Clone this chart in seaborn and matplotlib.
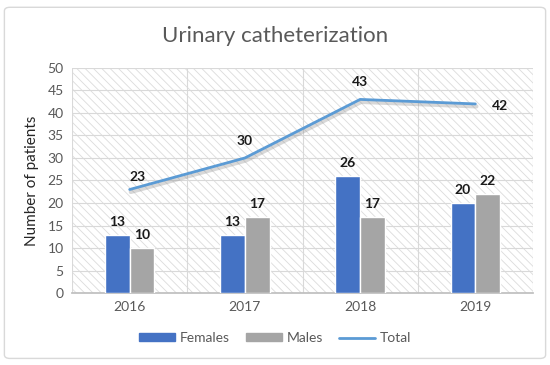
import numpy as np
import pandas as pd
import seaborn as sns
import matplotlib.pyplot as plt
import matplotlib.patheffects as pe
from matplotlib.patches import Patch, Rectangle, FancyBboxPatch
from matplotlib.lines import Line2D

years = ["2016", "2017", "2018", "2019"]
females = [13, 13, 26, 20]
males = [10, 17, 17, 22]
total = [23, 30, 43, 42]

sns.set_theme(style="white")
plt.rcParams['font.family'] = ['Lato', 'DejaVu Sans']
plt.rcParams['hatch.color'] = '#dcdcdc'
plt.rcParams['hatch.linewidth'] = 0.6

df = pd.DataFrame({
    'Year': years * 2,
    'Count': females + males,
    'Sex': ['Females'] * 4 + ['Males'] * 4,
})

fig = plt.figure(figsize=(5.5, 3.65), dpi=100)
ax = fig.add_axes([0.131, 0.197, 0.838, 0.617])

# hatched plot background
ax.add_patch(Rectangle((0, 0), 1, 1, transform=ax.transAxes, facecolor='white',
                       edgecolor='#dcdcdc', hatch='\\\\\\\\', lw=0, zorder=0))

sns.barplot(data=df, x='Year', y='Count', hue='Sex',
            palette={'Females': '#4472C4', 'Males': '#A5A5A5'},
            width=0.43, saturation=1, ax=ax, legend=False, zorder=3)

for cont in ax.containers:
    ax.bar_label(cont, padding=5, fontsize=10, fontweight='bold', color='#1a1a1a')

xs = np.arange(len(years))
sns.lineplot(x=xs, y=total, ax=ax, color='#5B9BD5', lw=2, zorder=4,
             path_effects=[pe.SimpleLineShadow(offset=(0.8, -1.8), shadow_color='#909090',
                                               alpha=0.35, linewidth=3),
                           pe.Normal()])

offsets = [(6, 5), (0, 8), (0, 8), (18, -6)]
for x, v, off in zip(xs, total, offsets):
    ax.annotate(str(v), (x, v), xytext=off, textcoords='offset points',
                ha='center', va='bottom', fontsize=10, fontweight='bold', color='#1a1a1a')

ax.set_ylim(0, 50)
ax.set_yticks(range(0, 51, 5))
ax.set_xlim(-0.5, 3.5)
ax.set_axisbelow(True)
ax.yaxis.grid(True, color='#d9d9d9', lw=0.8)
for b in np.arange(-0.5, 3.6, 1):
    ax.axvline(b, color='#d9d9d9', lw=0.8, zorder=1)

for s in ['top', 'right', 'left']:
    ax.spines[s].set_visible(False)
ax.spines['bottom'].set_color('#bfbfbf')
ax.tick_params(axis='both', length=0, labelsize=10, colors='#595959', pad=6)
ax.set_xlabel('')
ax.set_ylabel('Number of patients', fontsize=11, color='#262626', labelpad=6)

fig.text(0.5, 0.902, 'Urinary catheterization', ha='center', va='center',
         fontsize=16, color='#595959')

handles = [Patch(color='#4472C4', label='Females'),
           Patch(color='#A5A5A5', label='Males'),
           Line2D([], [], color='#5B9BD5', lw=2, label='Total')]
fig.legend(handles=handles, loc='center', bbox_to_anchor=(0.5, 0.073), ncol=3,
           frameon=False, fontsize=10, handlelength=2.6, handleheight=0.5,
           columnspacing=1.2, handletextpad=0.3, labelcolor='#595959')

fig.patches.append(FancyBboxPatch((0.008, 0.018), 0.984, 0.962, transform=fig.transFigure,
                                  boxstyle='round,pad=0,rounding_size=0.01',
                                  facecolor='none', edgecolor='#d9d9d9', lw=1))

fig.savefig('out.png', dpi=100)
